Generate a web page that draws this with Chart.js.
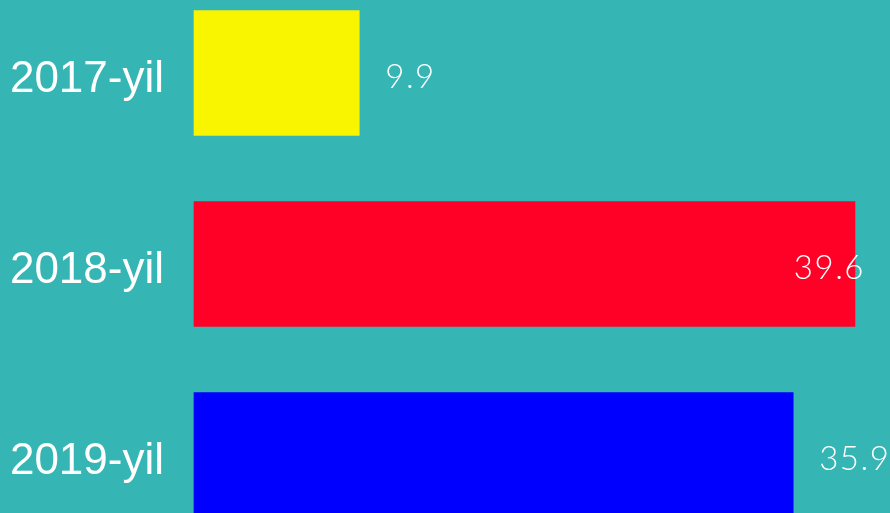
<!DOCTYPE html>
<html>
<head>
<meta charset="utf-8">
<script src="https://cdn.jsdelivr.net/npm/chart.js@4"></script>
<style>
  html, body { margin: 0; padding: 0; background: #35b5b3; overflow: hidden; }
  #wrap { width: 890px; height: 513px; }
</style>
</head>
<body>
<div id="wrap"><canvas id="myChart"></canvas></div>
<script>
const years = ['2017-yil', '2018-yil', '2019-yil'];
const values = [9.9, 39.6, 35.9];
const barColors = ['#f9f500', '#ff0026', '#0000ff'];

// draw the value next to each bar end, pulled back when it would leave the canvas
const valueLabels = {
  id: 'valueLabels',
  afterDatasetsDraw(chart) {
    const c = chart.ctx;
    const meta = chart.getDatasetMeta(0);
    c.save();
    c.font = '300 33px Lato, "Open Sans", sans-serif';
    c.letterSpacing = '1.5px';
    c.fillStyle = '#ffffff';
    c.textBaseline = 'middle';
    meta.data.forEach((bar, i) => {
      const txt = String(values[i]);
      const w = c.measureText(txt).width;
      let x = bar.x + 26;
      if (x + w > chart.width + 10) x = chart.width - 25 - w;
      c.fillText(txt, x, bar.y + 4);
    });
    c.restore();
  }
};

const ctx = document.getElementById('myChart');

new Chart(ctx, {
  type: 'bar',
  data: {
    labels: years,
    datasets: [{
      data: values,
      backgroundColor: barColors,
      barThickness: 125,
      clip: false
    }]
  },
  options: {
    indexAxis: 'y',
    responsive: true,
    maintainAspectRatio: false,
    animation: false,
    layout: {
      padding: { top: 73, bottom: 58, left: 0, right: 0 }
    },
    scales: {
      x: {
        display: false,
        min: 0,
        max: 41.7
      },
      y: {
        offset: false,
        grid: { display: false, drawTicks: false },
        border: { display: false },
        ticks: {
          color: '#ffffff',
          padding: 30,
          labelOffset: 7,
          font: { family: 'Arial, "Liberation Sans", sans-serif', size: 44 }
        },
        afterFit(scale) {
          scale.width = 194;
        }
      }
    },
    plugins: {
      legend: { display: false },
      tooltip: { enabled: false }
    }
  },
  plugins: [valueLabels]
});
</script>
</body>
</html>
